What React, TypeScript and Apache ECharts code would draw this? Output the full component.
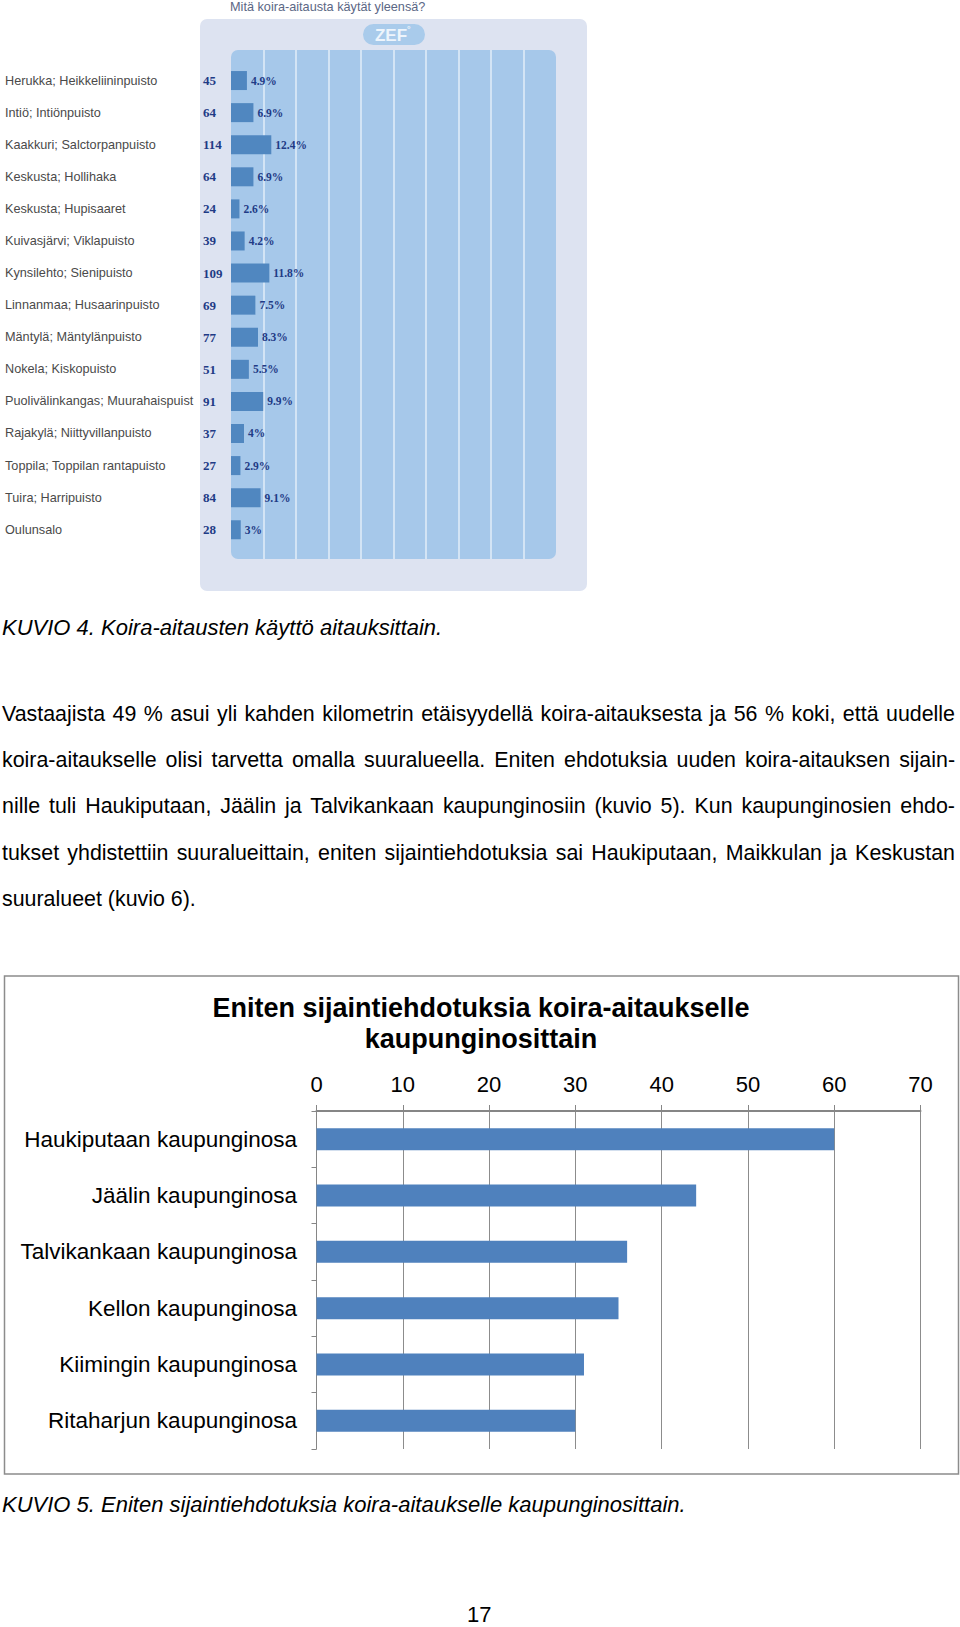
import React, { useEffect, useRef } from "react";
import * as echarts from "echarts";

// ---- KUVIO 4 data (ZEF chart) ----
const parkNames = [
  "Herukka; Heikkeliininpuisto",
  "Intiö; Intiönpuisto",
  "Kaakkuri; Salctorpanpuisto",
  "Keskusta; Hollihaka",
  "Keskusta; Hupisaaret",
  "Kuivasjärvi; Viklapuisto",
  "Kynsilehto; Sienipuisto",
  "Linnanmaa; Husaarinpuisto",
  "Mäntylä; Mäntylänpuisto",
  "Nokela; Kiskopuisto",
  "Puolivälinkangas; Muurahaispuist",
  "Rajakylä; Niittyvillanpuisto",
  "Toppila; Toppilan rantapuisto",
  "Tuira; Harripuisto",
  "Oulunsalo",
];
const parkCounts = [45, 64, 114, 64, 24, 39, 109, 69, 77, 51, 91, 37, 27, 84, 28];
const parkPercents = [4.9, 6.9, 12.4, 6.9, 2.6, 4.2, 11.8, 7.5, 8.3, 5.5, 9.9, 4, 2.9, 9.1, 3];

// ---- KUVIO 5 data ----
const districtNames = [
  "Haukiputaan kaupunginosa",
  "Jäälin kaupunginosa",
  "Talvikankaan kaupunginosa",
  "Kellon kaupunginosa",
  "Kiimingin kaupunginosa",
  "Ritaharjun kaupunginosa",
];
const districtCounts = [60, 44, 36, 35, 31, 30];

const zefTitle = "Mitä koira-aitausta käytät yleensä?";
const chart2Title = "Eniten sijaintiehdotuksia koira-aitaukselle\nkaupunginosittain";
const caption4 = "KUVIO 4. Koira-aitausten käyttö aitauksittain.";
const caption5 = "KUVIO 5. Eniten sijaintiehdotuksia koira-aitaukselle kaupunginosittain.";
const paragraphLines = [
  "Vastaajista 49 % asui yli kahden kilometrin etäisyydellä koira-aitauksesta ja 56 % koki, että uudelle",
  "koira-aitaukselle olisi tarvetta omalla suuralueella. Eniten ehdotuksia uuden koira-aitauksen sijain-",
  "nille tuli Haukiputaan, Jäälin ja Talvikankaan kaupunginosiin (kuvio 5). Kun kaupunginosien ehdo-",
  "tukset yhdistettiin suuralueittain, eniten sijaintiehdotuksia sai Haukiputaan, Maikkulan ja Keskustan",
  "suuralueet (kuvio 6).",
];
const pageNumber = "17";

const SANS = '"Liberation Sans", Arial, Helvetica, sans-serif';
const SERIF = '"Liberation Serif", "Times New Roman", serif';

export default function App() {
  const ref = useRef<HTMLDivElement>(null);

  useEffect(() => {
    if (!ref.current) return;
    const chart = echarts.init(ref.current, undefined, { renderer: "svg" });
    const option: any = {
      animation: false,
      graphic: [
        {
          type: "rect",
          z: -10,
          shape: { x: 200, y: 19, width: 387, height: 572, r: 7 },
          style: { fill: "#dde3f1" },
        },
        {
          type: "rect",
          z: -5,
          shape: { x: 231, y: 50, width: 325, height: 509, r: 7 },
          style: { fill: "#a6c8ea" },
        },
        {
          type: "rect",
          z: -5,
          shape: { x: 363, y: 24, width: 62, height: 21, r: 10.5 },
          style: { fill: "#a9cbeb" },
        },
        {
          type: "text",
          z: 5,
          x: 391,
          y: 35,
          style: {
            text: "ZEF",
            fill: "#eef5fc",
            font: `bold 17px ${SANS}`,
            align: "center",
            verticalAlign: "middle",
          },
        },
        {
          type: "text",
          z: 5,
          x: 407,
          y: 29,
          style: {
            text: "°",
            fill: "#eef5fc",
            font: `bold 9px ${SANS}`,
            align: "left",
            verticalAlign: "middle",
          },
        },
        {
          type: "text",
          z: 5,
          x: 230,
          y: 7,
          style: {
            text: zefTitle,
            fill: "#5b6785",
            font: `12.7px ${SANS}`,
            align: "left",
            verticalAlign: "middle",
          },
        },
        {
          type: "rect",
          z: -10,
          shape: { x: 4.5, y: 976, width: 954, height: 498 },
          style: { fill: "#ffffff", stroke: "#8c8c8c", lineWidth: 1.5 },
        },
        {
          type: "text",
          z: 5,
          x: 481,
          y: 992.5,
          style: {
            text: chart2Title,
            fill: "#000",
            font: `bold 27px ${SANS}`,
            lineHeight: 31,
            align: "center",
            verticalAlign: "top",
          },
        },
      ],
      grid: [
        { left: 231, top: 50, width: 325, height: 509 },
        { left: 231, top: 64.5, width: 325, height: 481.3 },
        { left: 316.5, top: 1111, width: 604, height: 338 },
      ],
      xAxis: [
        {
          gridIndex: 0,
          type: "value",
          min: 0,
          max: 100,
          interval: 10,
          axisLine: { show: false },
          axisTick: { show: false },
          axisLabel: { show: false },
          splitLine: {
            show: true,
            showMinLine: false,
            showMaxLine: false,
            lineStyle: { color: "#d3e4f5", width: 2 },
          },
        },
        { gridIndex: 1, type: "value", min: 0, max: 100, show: false },
        {
          gridIndex: 2,
          type: "value",
          position: "top",
          min: 0,
          max: 70,
          interval: 10,
          axisLine: { show: true, lineStyle: { color: "#868686", width: 2 } },
          axisTick: { show: true, length: 6, lineStyle: { color: "#868686", width: 1 } },
          axisLabel: { fontFamily: SANS, fontSize: 22, color: "#000", margin: 16 },
          splitLine: { show: true, lineStyle: { color: "#8c8c8c", width: 1 } },
        },
      ],
      yAxis: [
        { gridIndex: 0, type: "value", show: false },
        {
          gridIndex: 1,
          type: "category",
          inverse: true,
          position: "left",
          data: parkNames,
          axisLine: { show: false },
          axisTick: { show: false },
          axisLabel: {
            align: "left",
            margin: 226,
            fontFamily: SANS,
            fontSize: 12.7,
            color: "#4a4a4a",
          },
        },
        {
          gridIndex: 1,
          type: "category",
          inverse: true,
          position: "left",
          data: parkCounts.map((c) => String(c)),
          axisLine: { show: false },
          axisTick: { show: false },
          axisLabel: {
            align: "left",
            margin: 28,
            fontFamily: SERIF,
            fontWeight: "bold",
            fontSize: 13,
            color: "#1f3b86",
          },
        },
        {
          gridIndex: 2,
          type: "category",
          inverse: true,
          data: districtNames,
          axisLine: { show: true, lineStyle: { color: "#868686", width: 1 } },
          axisTick: { show: true, length: 5, lineStyle: { color: "#868686" } },
          axisLabel: { fontFamily: SANS, fontSize: 22.5, color: "#000", margin: 19.5 },
        },
      ],
      series: [
        {
          type: "bar",
          xAxisIndex: 1,
          yAxisIndex: 1,
          data: parkPercents,
          barWidth: 19,
          itemStyle: { color: "#5087c0" },
          label: {
            show: true,
            position: "right",
            distance: 4,
            formatter: (p: any) => p.value + "%",
            fontFamily: SERIF,
            fontWeight: "bold",
            fontSize: 11.5,
            color: "#1f3b86",
          },
        },
        {
          type: "bar",
          xAxisIndex: 2,
          yAxisIndex: 3,
          data: districtCounts,
          barWidth: 22,
          itemStyle: { color: "#4f81bd" },
        },
      ],
    };
    chart.setOption(option);
    return () => chart.dispose();
  }, []);

  const textBase: React.CSSProperties = {
    position: "absolute",
    fontFamily: SANS,
    fontSize: 22,
    color: "#000",
    whiteSpace: "nowrap",
  };

  return (
    <div
      style={{
        position: "absolute",
        left: 0,
        top: 0,
        width: 960,
        height: 1627,
        overflow: "hidden",
        background: "#fff",
      }}
    >
      <div ref={ref} style={{ position: "absolute", left: 0, top: 0, width: 960, height: 1627 }} />
      <div style={{ ...textBase, left: 2, top: 615, lineHeight: "26px", fontStyle: "italic" }}>{caption4}</div>
      <div style={{ position: "absolute", left: 2, top: 691, width: 953, fontFamily: SANS, fontSize: 21.4, lineHeight: "46.2px", color: "#000" }}>
        {paragraphLines.map((l, i) => (
          <div
            key={i}
            style={{
              textAlign: i < paragraphLines.length - 1 ? "justify" : "left",
              textAlignLast: i < paragraphLines.length - 1 ? "justify" : "left",
              height: 46.2,
              whiteSpace: "nowrap",
            }}
          >
            {l}
          </div>
        ))}
      </div>
      <div style={{ ...textBase, left: 2, top: 1492, lineHeight: "26px", fontStyle: "italic" }}>{caption5}</div>
      <div style={{ ...textBase, left: 467, top: 1602, lineHeight: "26px" }}>{pageNumber}</div>
    </div>
  );
}
